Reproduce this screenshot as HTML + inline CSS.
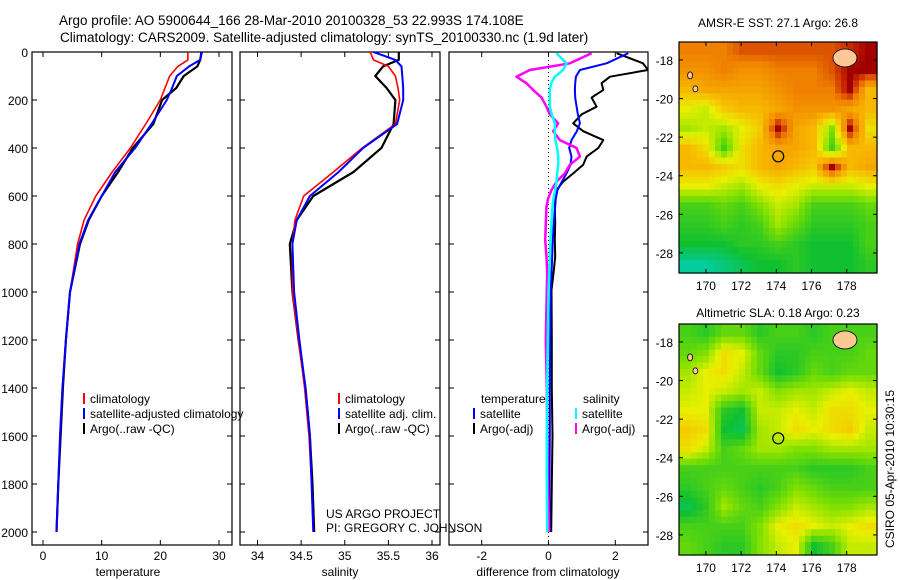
<!DOCTYPE html>
<html><head><meta charset="utf-8">
<style>
html,body{margin:0;padding:0;background:#fff;}
svg{display:block;font-family:"Liberation Sans",sans-serif;}
text{font-size:12px;fill:#000;}
</style></head>
<body>
<svg id="chart" width="900" height="580" viewBox="0 0 900 580" xmlns="http://www.w3.org/2000/svg">
<rect width="900" height="580" fill="#fff"/>
<text x="59" y="25" style="font-size:13.5px">Argo profile: AO 5900644_166 28-Mar-2010 20100328_53 22.993S 174.108E</text>
<text x="60" y="42" style="font-size:13.5px">Climatology: CARS2009. Satellite-adjusted climatology: synTS_20100330.nc (1.9d later)</text>
<text x="326" y="518">US ARGO PROJECT</text>
<text x="326" y="532">PI: GREGORY C. JOHNSON</text>
<text transform="translate(894,548) rotate(-90)">CSIRO 05-Apr-2010 10:30:15</text>
<g id="plots"></g>
</svg>
<script>
// ---------- DATA ----------
const pressures = [0,33,60,100,150,200,300,400,500,600,700,800,1000,1200,1400,1600,1800,2000];
const tempClim   = [24.7,24.7,23.0,21.6,20.8,20.0,17.5,14.9,11.8,9.0,7.0,5.9,4.6,3.9,3.3,2.9,2.6,2.3];
const tempSat    = [27.1,26.8,24.9,22.8,22.0,21.1,18.5,15.7,12.3,10.0,7.7,6.2,4.6,3.9,3.3,2.9,2.6,2.3];
const tempArgo   = [27.0,26.8,26.3,24.0,22.7,20.3,18.8,15.3,12.8,10.0,7.8,6.3,4.6,3.9,3.4,3.0,2.6,2.3];
const salClim    = [35.29,35.33,35.50,35.58,35.61,35.63,35.58,35.20,34.87,34.53,34.43,34.40,34.40,34.47,34.54,34.59,34.62,34.64];
const salSat     = [35.33,35.58,35.65,35.66,35.67,35.67,35.60,35.21,34.93,34.60,34.45,34.40,34.42,34.48,34.55,34.60,34.62,34.64];
const salArgo    = [35.62,35.62,35.44,35.35,35.48,35.58,35.56,35.42,35.10,34.64,34.45,34.37,34.40,34.47,34.55,34.60,34.63,34.65];
const diffP      = [5,47,75,103,130,158,190,228,260,297,330,367,400,436,470,506,540,575,610,644,714,783,853,922,992,1200,1400,1600,1800,2000];
const dTempArgo  = [2.04,2.83,2.98,1.84,1.59,1.64,1.29,1.44,0.99,0.74,1.04,1.64,1.49,1.14,1.04,0.74,0.44,0.24,0.20,0.19,0.20,0.19,0.20,0.15,0.09,0.10,0.10,0.12,0.10,0.08];
const dTempSat   = [2.39,1.74,0.94,0.82,0.80,0.79,0.80,0.84,0.88,0.94,0.85,0.69,0.62,0.69,0.66,0.54,0.40,0.27,0.22,0.20,0.16,0.13,0.11,0.09,0.07,0.05,0.04,0.04,0.03,0.03];
const dSalArgo   = [1.29,0.64,-0.56,-0.96,-0.66,-0.46,-0.21,-0.06,0.04,0.29,0.14,0.34,0.84,0.94,0.64,0.49,0.24,0.09,-0.01,-0.06,-0.08,-0.10,-0.06,-0.04,-0.05,-0.08,-0.05,-0.04,-0.02,0.02];
const dSalSat    = [0.24,0.54,0.44,0.19,0.08,0.04,0.04,0.04,0.10,0.19,0.19,0.20,0.26,0.29,0.29,0.26,0.24,0.20,0.15,0.12,0.09,0.06,0.04,0.02,0.00,-0.02,-0.04,-0.05,-0.05,-0.04];
const depthTicks = [0,200,400,600,800,1000,1200,1400,1600,1800,2000];
const tempTicks  = [0,10,20,30];
const salTicks   = [34,34.5,35,35.5,36];
const diffTicks  = [-2,0,2];
const lonTicks   = [170,172,174,176,178];
const latTicks   = [-18,-20,-22,-24,-26,-28];
const sstGrid = [
[.85,.85,.85,.9,.9,.9,.9,.9,.9,.95,1],
[.8,.8,.85,.8,.8,.85,.85,.85,.9,1,1],
[.7,.75,.75,.75,.75,.8,.85,.85,.85,1,.7],
[.55,.5,.65,.7,.7,.75,.8,.8,.8,.75,.7],
[.45,.5,.45,.55,.65,1,.75,.7,.4,1,.6],
[.7,.6,.3,.6,.7,.75,.75,.7,.3,.7,.7],
[.7,.7,.65,.6,.7,.75,.7,.65,1,.7,.75],
[.55,.55,.5,.45,.55,.6,.55,.5,.5,.5,.55],
[.3,.3,.35,.3,.4,.5,.45,.3,.3,.3,.35],
[.25,.25,.3,.25,.3,.45,.35,.25,.25,.25,.3],
[.2,.2,.2,.25,.25,.3,.25,.2,.2,.2,.3],
[.05,.05,.1,.15,.2,.2,.25,.2,.2,.2,.25]];
const slaGrid = [
[.3,.25,.35,.35,.25,.3,.3,.25,.3,.3,.3],
[.35,.4,.6,.55,.35,.25,.25,.3,.3,.3,.35],
[.45,.55,.6,.5,.35,.2,.25,.35,.3,.35,.35],
[.5,.55,.5,.45,.5,.4,.45,.45,.5,.55,.5],
[.55,.55,.25,.2,.5,.5,.55,.5,.6,.6,.55],
[.65,.6,.2,.15,.45,.5,.6,.55,.6,.65,.5],
[.6,.5,.3,.35,.45,.45,.4,.4,.45,.45,.45],
[.3,.3,.3,.3,.3,.3,.3,.25,.25,.25,.3],
[.25,.3,.35,.3,.25,.3,.4,.35,.3,.3,.3],
[.15,.25,.45,.35,.3,.4,.5,.45,.4,.4,.45],
[.3,.3,.3,.3,.4,.55,.6,.55,.5,.55,.6],
[.35,.3,.25,.25,.4,.5,.55,.2,.3,.5,.5]];
const argoLon = 174.108, argoLat = -22.993;

// ---------- HELPERS ----------
const NS='http://www.w3.org/2000/svg';
const root=document.getElementById('plots');
function mk(tag,attrs,parent){const e=document.createElementNS(NS,tag);for(const k in attrs)e.setAttribute(k,attrs[k]);(parent||root).appendChild(e);return e;}
const PY0=52, PYK=0.24;
const yP = p => PY0 + p*PYK;
function linScale(d0,d1,r0,r1){return v=>r0+(v-d0)*(r1-r0)/(d1-d0);}

function panel(name,x0,x1,xs,ticks,fmt,xlabel,xlabelX,showY){
  const g=mk('g',{});
  
  
  const fr=mk('rect',{x:x0,y:52,width:x1-x0,height:493,fill:'none',stroke:'#000','stroke-width':1.2},g);
  
  
  ticks.forEach(t=>{const x=xs(t);
    mk('line',{x1:x,x2:x,y1:545,y2:540,stroke:'#000'},g);
    mk('line',{x1:x,x2:x,y1:52,y2:57,stroke:'#000'},g);
    const tl=mk('text',{x:x,y:560,'text-anchor':'middle'},g);tl.textContent=fmt(t);
    
    
  });
  depthTicks.forEach(p=>{const y=yP(p);
    mk('line',{x1:x0,x2:x0+5,y1:y,y2:y,stroke:'#000'},g);
    mk('line',{x1:x1,x2:x1-5,y1:y,y2:y,stroke:'#000'},g);
    if(showY){const tl=mk('text',{x:28,y:y+5,'text-anchor':'end'},g);tl.textContent=p;
      
      }
  });
  const xl=mk('text',{x:xlabelX,y:576,'text-anchor':'middle'},g);xl.textContent=xlabel;
  
  
  return g;
}
function series(g,xs,vals,ps,color,w,name,clipId){
  const d=vals.map((v,i)=>(i?'L':'M')+xs(v).toFixed(1)+','+yP(ps[i]).toFixed(1)).join(' ');
  const p=mk('path',{d:d,fill:'none',stroke:color,'stroke-width':w,'stroke-linejoin':'round'},g);
  if(clipId)p.setAttribute('clip-path','url(#'+clipId+')');
  
  
}
function legend(g,x,y,color,label,name){
  mk('rect',{x:x,y:y-10,width:2,height:11,fill:color},g);
  const t=mk('text',{x:x+7,y:y},g);t.textContent=label;
  
  
}

// ---------- TEMPERATURE ----------
const xT=linScale(0,30,43,219);
const gT=panel('temperature',32,232,xT,tempTicks,v=>v,'temperature',128,true);
series(gT,xT,tempArgo,pressures,'#000',2.2,'temp-argo-line');
series(gT,xT,tempClim,pressures,'#f00',1.6,'temp-climatology-line');
series(gT,xT,tempSat,pressures,'#00f',2,'temp-satellite-line');
legend(gT,83,403,'#f00','climatology','legend-climatology');
legend(gT,83,418,'#00f','satellite-adjusted climatology','legend-satellite-adjusted');
legend(gT,83,433,'#000','Argo(..raw -QC)','legend-argo-raw');

// ---------- SALINITY ----------
const xS=linScale(34,36,257.5,432);
const gS=panel('salinity',240,440,xS,salTicks,v=>v,'salinity',340,false);
series(gS,xS,salArgo,pressures,'#000',2.2,'sal-argo-line');
series(gS,xS,salClim,pressures,'#f00',1.6,'sal-climatology-line');
series(gS,xS,salSat,pressures,'#00f',2,'sal-satellite-line');
legend(gS,338,403,'#f00','climatology','legend-sal-climatology');
legend(gS,338,418,'#00f','satellite adj. clim.','legend-sal-satellite');
legend(gS,338,433,'#000','Argo(..raw -QC)','legend-sal-argo');

// ---------- DIFFERENCE ----------
const xD=linScale(0,1,548.5,581.9);
const clip=mk('clipPath',{id:'dclip'});mk('rect',{x:449,y:52,width:199,height:493},clip);
const gD=panel('difference',449,648,xD,diffTicks,v=>v,'difference from climatology',548,false);
mk('line',{x1:xD(0),x2:xD(0),y1:52,y2:545,stroke:'#000','stroke-dasharray':'1,3'},gD);
series(gD,xD,dTempArgo,diffP,'#000',2,'diff-temp-argo-line','dclip');
series(gD,xD,dTempSat,diffP,'#00f',2,'diff-temp-satellite-line','dclip');
series(gD,xD,dSalArgo,diffP,'#f0f',2.5,'diff-sal-argo-line','dclip');
series(gD,xD,dSalSat,diffP,'#0ff',2.5,'diff-sal-satellite-line','dclip');
const lt=mk('text',{x:481,y:403},gD);lt.textContent='temperature';

const ls=mk('text',{x:583,y:403},gD);ls.textContent='salinity';

legend(gD,473,418,'#00f','satellite','legend-diff-temp-satellite');
legend(gD,473,433,'#000','Argo(-adj)','legend-diff-temp-argo');
legend(gD,575,418,'#0ff','satellite','legend-diff-sal-satellite');
legend(gD,575,433,'#f0f','Argo(-adj)','legend-diff-sal-argo');

// ---------- MAPS ----------
const cmapStops=[[0,[0,208,192]],[0.2,[16,192,48]],[0.4,[128,224,0]],[0.55,[232,240,0]],[0.7,[248,184,0]],[0.85,[240,128,0]],[0.95,[200,40,0]],[1,[160,0,0]]];
function cmap(v){for(let i=1;i<cmapStops.length;i++){if(v<=cmapStops[i][0]){const a=cmapStops[i-1],b=cmapStops[i],t=(v-a[0])/(b[0]-a[0]);
  return 'rgb('+a[1].map((c,k)=>Math.round(c+(b[1][k]-c)*t)).join(',')+')';}}return 'rgb(160,0,0)';}
function sample(grid,fr,fc){
  const rows=grid.length, cols=grid[0].length;
  const r=Math.min(Math.max(fr-0.5,0),rows-1), c=Math.min(Math.max(fc-0.5,0),cols-1);
  const r0=Math.floor(r), c0=Math.floor(c), r1=Math.min(r0+1,rows-1), c1=Math.min(c0+1,cols-1);
  const tr=r-r0, tc=c-c0;
  const a=grid[r0][c0]*(1-tc)+grid[r0][c1]*tc, b=grid[r1][c0]*(1-tc)+grid[r1][c1]*tc;
  return a*(1-tr)+b*tr;
}
function map(name,top,bottom,title,grid,titleY){
  const L=679,R=877;
  const xm=linScale(168.47,179.72,L,R), ym=linScale(-17.07,-29.04,top,bottom);
  const g=mk('g',{});
  
  
  const rows=grid.length, cols=grid[0].length, S=3;
  const lon0=168.47, lon1=179.72, lat0=-17.07, lat1=-29.04;
  for(let r=0;r<rows*S;r++)for(let c=0;c<cols*S;c++){
    const v=sample(grid,(r+0.5)/S,(c+0.5)/S);
    const la=lon0+(lon1-lon0)*c/(cols*S), lb=lon0+(lon1-lon0)*(c+1)/(cols*S);
    const ta=lat0+(lat1-lat0)*r/(rows*S), tb=lat0+(lat1-lat0)*(r+1)/(rows*S);
    const cell=mk('rect',{x:xm(la),y:ym(ta),width:xm(lb)-xm(la)+0.6,height:ym(tb)-ym(ta)+0.6,fill:cmap(v)},g);
    
    
  }
  const land=mk('ellipse',{cx:xm(177.9),cy:ym(-17.9),rx:12,ry:9,fill:'#fcc896',stroke:'#000','stroke-width':0.8},g);
  
  
  mk('ellipse',{cx:xm(169.1),cy:ym(-18.8),rx:2.5,ry:3.5,fill:'#fcc896',stroke:'#000','stroke-width':0.8},g);
  mk('ellipse',{cx:xm(169.4),cy:ym(-19.5),rx:2.5,ry:3,fill:'#fcc896',stroke:'#000','stroke-width':0.8},g);
  const fr=mk('rect',{x:L,y:top,width:R-L,height:bottom-top,fill:'none',stroke:'#000','stroke-width':1.2},g);
  
  
  const mark=mk('circle',{cx:xm(argoLon),cy:ym(argoLat),r:5.5,fill:'none',stroke:'#000','stroke-width':1.2},g);
  
  
  lonTicks.forEach(t=>{const x=xm(t);
    mk('line',{x1:x,x2:x,y1:bottom,y2:bottom-4,stroke:'#000'},g);
    mk('line',{x1:x,x2:x,y1:top,y2:top+4,stroke:'#000'},g);
    const tl=mk('text',{x:x,y:bottom+17,'text-anchor':'middle'},g);tl.textContent=t;
    
    
  });
  latTicks.forEach(t=>{const y=ym(t);
    mk('line',{x1:L,x2:L+4,y1:y,y2:y,stroke:'#000'},g);
    mk('line',{x1:R,x2:R-4,y1:y,y2:y,stroke:'#000'},g);
    const tl=mk('text',{x:L-6,y:y+5,'text-anchor':'end'},g);tl.textContent=t;
    
    
  });
  const tt=mk('text',{x:(L+R)/2,y:titleY,'text-anchor':'middle'},g);tt.textContent=title;
  
  
}
map('sst-map',42,273,'AMSR-E SST: 27.1 Argo: 26.8',sstGrid,27);
map('sla-map',324,555,'Altimetric SLA: 0.18 Argo: 0.23',slaGrid,317);
</script>
</body></html>
